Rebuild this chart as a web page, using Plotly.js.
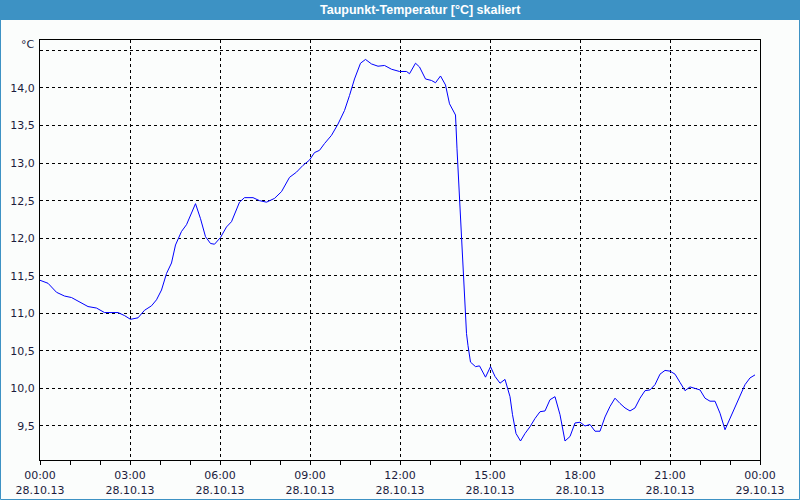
<!DOCTYPE html>
<html>
<head>
<meta charset="utf-8">
<script src="https://cdn.plot.ly/plotly-3.0.1.min.js"></script>
<style>
html,body{margin:0;padding:0;background:#fbfdfc;}
#chart{width:800px;height:500px;}
</style>
</head>
<body>
<div id="chart"></div>
<script>
// minutes after 28.10.13 00:00
const minutes = [0,16,33,49,63,79,96,113,129,156,169,181,196,209,223,233,243,253,263,271,283,293,303,311,321,331,341,349,361,373,383,399,409,426,439,453,469,483,499,513,526,539,549,559,569,583,596,609,619,629,641,651,663,676,689,703,719,733,739,751,759,771,783,791,801,811,819,831,834,836,838,840,842,844,846,848,850,853,856,861,871,879,891,901,910,920,930,940,945,952,961,970,980,990,1000,1010,1020,1030,1040,1050,1060,1070,1080,1090,1100,1110,1120,1130,1140,1150,1160,1170,1180,1190,1200,1210,1220,1230,1240,1250,1260,1270,1280,1290,1300,1310,1320,1330,1340,1350,1360,1370,1380,1390,1400,1410,1420,1430];
const dewpoint = [11.44,11.40,11.28,11.23,11.21,11.15,11.09,11.07,11.01,11.01,10.97,10.92,10.94,11.04,11.10,11.18,11.31,11.53,11.67,11.91,12.09,12.18,12.33,12.46,12.26,12.02,11.93,11.92,12.01,12.15,12.22,12.48,12.54,12.54,12.50,12.48,12.53,12.62,12.81,12.88,12.97,13.04,13.14,13.17,13.26,13.37,13.52,13.70,13.90,14.12,14.33,14.38,14.32,14.29,14.30,14.25,14.22,14.22,14.19,14.33,14.28,14.12,14.10,14.07,14.16,14.04,13.79,13.64,13.19,12.93,12.66,12.37,12.08,11.82,11.48,11.19,10.93,10.73,10.57,10.35,10.29,10.30,10.15,10.29,10.16,10.07,10.12,9.89,9.65,9.40,9.30,9.40,9.49,9.60,9.69,9.70,9.85,9.89,9.65,9.30,9.36,9.54,9.55,9.50,9.52,9.43,9.43,9.62,9.76,9.87,9.80,9.74,9.70,9.74,9.87,9.97,9.98,10.05,10.19,10.24,10.23,10.19,10.08,9.97,10.02,10.00,9.98,9.87,9.83,9.83,9.67,9.45,9.60,9.74,9.89,10.05,10.14,10.18];

const xTickVals = ['2013-10-28 00:00','2013-10-28 03:00','2013-10-28 06:00','2013-10-28 09:00','2013-10-28 12:00','2013-10-28 15:00','2013-10-28 18:00','2013-10-28 21:00','2013-10-29 00:00'];
const xTickText = ['00:00<br>28.10.13','03:00<br>28.10.13','06:00<br>28.10.13','09:00<br>28.10.13','12:00<br>28.10.13','15:00<br>28.10.13','18:00<br>28.10.13','21:00<br>28.10.13','00:00<br>29.10.13'];
const yTickVals = [9.5,10.0,10.5,11.0,11.5,12.0,12.5,13.0,13.5,14.0,14.5];
const yTickText = ['9,5','10,0','10,5','11,0','11,5','12,0','12,5','13,0','13,5','14,0',''];
const titleText = 'Taupunkt-Temperatur [°C] skaliert';
const unitText = '°C';

function pad(n){return (n<10?'0':'')+n;}
const times = minutes.map(m => '2013-10-28 ' + pad(Math.floor(m/60)) + ':' + pad(m%60));

const font = {family:'DejaVu Sans, Verdana, sans-serif', size:11, color:'#1c1c3c'};
// paper <-> pixel helpers (plot area: x 40..760, y 40..460)
const px = p => (p-40)/720;
const py = p => 1-(p-40)/420;

const trace = {
  x: times, y: dewpoint, type:'scatter', mode:'lines',
  line:{color:'#0000ff', width:1}, hoverinfo:'skip'
};

const layout = {
  width:800, height:500,
  margin:{l:40,r:40,t:40,b:40},
  paper_bgcolor:'#fbfdfc', plot_bgcolor:'#fbfdfc',
  showlegend:false,
  font: font,
  separators: ',.',
  xaxis:{
    type:'date',
    range:['2013-10-28 00:00','2013-10-29 00:00'],
    tickmode:'array', tickvals:xTickVals, ticktext:xTickText,
    ticks:'outside', ticklen:4, tickcolor:'#000', tickwidth:1,
    showgrid:true, gridcolor:'#000', gridwidth:1, griddash:'3px,3px',
    showline:true, linecolor:'#000', linewidth:1, mirror:true,
    zeroline:false, tickfont:font, ticklabelstandoff:1,
    minor:{dtick:3600000, ticks:'outside', ticklen:4, tickcolor:'#000', showgrid:false}
  },
  yaxis:{
    range:[9.047,14.639],
    tickmode:'array', tickvals:yTickVals, ticktext:yTickText,
    ticks:'', showgrid:true, gridcolor:'#000', gridwidth:1, griddash:'3px,3px',
    showline:true, linecolor:'#000', linewidth:1, mirror:true,
    zeroline:false, tickfont:font, ticklabelstandoff:2
  },
  shapes:[
    {type:'rect', xref:'paper', yref:'paper', x0:px(0), x1:px(800), y0:py(20), y1:py(0),
     fillcolor:'#3d92c4', line:{width:0}, layer:'above'},
    {type:'rect', xref:'paper', yref:'paper', x0:px(0.5), x1:px(799.5), y0:py(499.5), y1:py(0.5),
     fillcolor:'rgba(0,0,0,0)', line:{width:1, color:'#3d92c4'}, layer:'above'}
  ],
  annotations:[
    {text:titleText, xref:'paper', yref:'paper', x:px(420), y:py(10), xanchor:'center', yanchor:'middle',
     showarrow:false, font:{family:'Liberation Sans, Arial, sans-serif', size:12.5, color:'#ffffff', weight:'bold'}},
    {text:unitText, xref:'paper', yref:'paper', x:px(37), y:py(45), xanchor:'right', yanchor:'middle',
     showarrow:false, font:font}
  ]
};

Plotly.newPlot('chart',[trace],layout,{staticPlot:true, displayModeBar:false});
</script>
</body>
</html>
